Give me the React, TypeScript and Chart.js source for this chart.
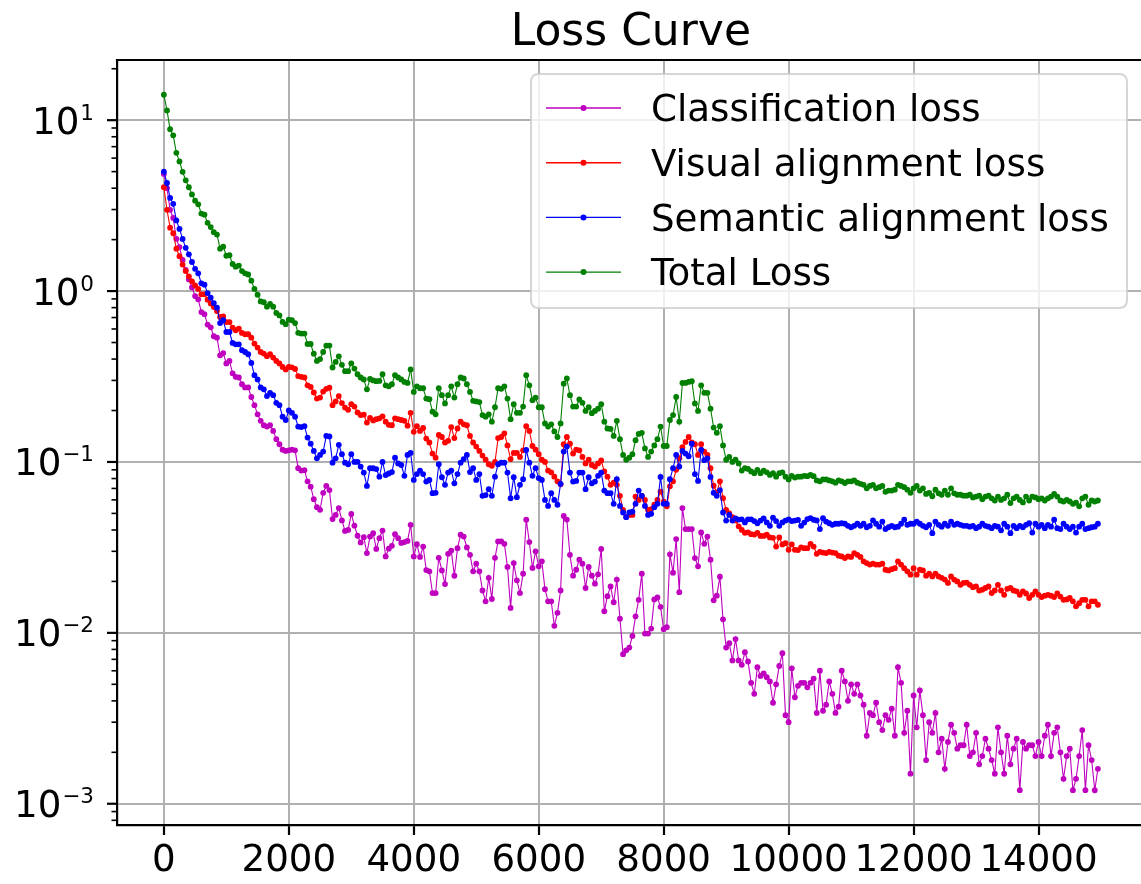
import React, { useEffect, useRef } from 'react';
import { Chart, registerables } from 'chart.js';

Chart.register(...registerables);

const STEP = 50;

const classificationLoss = [
  4.85, 4.0, 2.99, 2.68, 2.02, 1.81, 1.52, 1.33, 1.17, 1.05, 0.935, 0.895, 0.754, 0.733, 0.637, 0.614, 0.544, 0.534, 0.421, 0.434,
  0.377, 0.39, 0.33, 0.315, 0.312, 0.285, 0.273, 0.273, 0.24, 0.215, 0.19, 0.174, 0.164, 0.161, 0.164, 0.152, 0.136, 0.127, 0.118, 0.116,
  0.117, 0.118, 0.117, 0.092, 0.089, 0.0895, 0.077, 0.0717, 0.0606, 0.0544, 0.0525, 0.066, 0.0724, 0.0685, 0.0463, 0.049, 0.0537, 0.0455, 0.0395, 0.04,
  0.0496, 0.0424, 0.037, 0.0338, 0.0363, 0.0293, 0.0366, 0.0383, 0.031, 0.0358, 0.0397, 0.028, 0.0311, 0.0323, 0.0378, 0.0358, 0.0336, 0.034, 0.0345, 0.0429,
  0.028, 0.033, 0.0278, 0.032, 0.0233, 0.0229, 0.0171, 0.0171, 0.0275, 0.0232, 0.0193, 0.029, 0.0303, 0.0216, 0.0313, 0.0375, 0.0366, 0.0316, 0.0286, 0.0229,
  0.0254, 0.0229, 0.0177, 0.0153, 0.021, 0.0158, 0.0275, 0.0343, 0.0343, 0.0332, 0.0243, 0.014, 0.0256, 0.0203, 0.0171, 0.0222, 0.0459, 0.034, 0.024, 0.03,
  0.0245, 0.0262, 0.018, 0.0153, 0.0153, 0.011, 0.0131, 0.0177, 0.0483, 0.046, 0.0286, 0.0216, 0.0234, 0.0268, 0.0254, 0.0183, 0.0243, 0.0216, 0.0194, 0.022,
  0.031, 0.0134, 0.0164, 0.0187, 0.0151, 0.0205, 0.0121, 0.0075, 0.0079, 0.0082, 0.0096, 0.0125, 0.0156, 0.0222, 0.0099, 0.0099, 0.0106, 0.0157, 0.0161, 0.0142,
  0.0105, 0.0108, 0.0288, 0.0225, 0.0354, 0.0173, 0.0537, 0.0405, 0.0405, 0.0405, 0.0274, 0.0245, 0.0387, 0.0332, 0.0366, 0.0268, 0.0155, 0.0165, 0.0213, 0.012,
  0.0082, 0.0087, 0.0069, 0.0092, 0.0069, 0.0065, 0.0077, 0.0068, 0.0051, 0.0044, 0.0063, 0.0056, 0.0058, 0.0055, 0.0052, 0.0039, 0.005, 0.0064, 0.0076, 0.0033,
  0.003, 0.0062, 0.0042, 0.0049, 0.0051, 0.0051, 0.0048, 0.0051, 0.0054, 0.0034, 0.006, 0.0035, 0.0038, 0.0052, 0.0044, 0.0034, 0.0037, 0.006, 0.0052, 0.004,
  0.005, 0.0044, 0.005, 0.0043, 0.0038, 0.0025, 0.0034, 0.0033, 0.0039, 0.003, 0.0027, 0.0033, 0.0031, 0.0036, 0.0025, 0.0063, 0.0051, 0.0026, 0.0035, 0.0015,
  0.0043, 0.0028, 0.0046, 0.0033, 0.0018, 0.003, 0.0026, 0.0034, 0.002, 0.0024, 0.0016, 0.0023, 0.0029, 0.0026, 0.0021, 0.0022, 0.0022, 0.0029, 0.0019, 0.002,
  0.0026, 0.0017, 0.0019, 0.0024, 0.0021, 0.0018, 0.0015, 0.0028, 0.002, 0.0015, 0.0025, 0.0017, 0.0021, 0.0024, 0.0012, 0.0023, 0.0021, 0.0022, 0.0022, 0.0019,
  0.0023, 0.0019, 0.0025, 0.0029, 0.0019, 0.0026, 0.0028, 0.002, 0.0014, 0.0019, 0.0021, 0.0012, 0.0014, 0.0019, 0.0027, 0.0012, 0.0022, 0.0018, 0.0012, 0.0016,
];

const visualAlignmentLoss = [
  4.05, 2.99, 2.35, 2.18, 1.77, 1.6, 1.43, 1.31, 1.22, 1.14, 1.08, 1.03, 0.957, 0.957, 0.89, 0.845, 0.806, 0.764, 0.705, 0.711,
  0.659, 0.659, 0.611, 0.59, 0.603, 0.569, 0.559, 0.559, 0.534, 0.493, 0.467, 0.44, 0.431, 0.416, 0.427, 0.408, 0.39, 0.377, 0.36, 0.348,
  0.36, 0.358, 0.35, 0.318, 0.315, 0.312, 0.281, 0.275, 0.255, 0.235, 0.238, 0.258, 0.268, 0.272, 0.215, 0.226, 0.243, 0.221, 0.208, 0.202,
  0.218, 0.211, 0.195, 0.188, 0.189, 0.17, 0.181, 0.175, 0.178, 0.18, 0.185, 0.172, 0.165, 0.164, 0.18, 0.178, 0.176, 0.174, 0.163, 0.194,
  0.15, 0.162, 0.152, 0.158, 0.137, 0.13, 0.112, 0.106, 0.144, 0.14, 0.13, 0.133, 0.16, 0.138, 0.157, 0.172, 0.166, 0.164, 0.142, 0.13,
  0.123, 0.116, 0.109, 0.103, 0.097, 0.095, 0.1, 0.138, 0.14, 0.147, 0.125, 0.104, 0.113, 0.113, 0.107, 0.117, 0.162, 0.152, 0.124, 0.118,
  0.111, 0.103, 0.1, 0.089, 0.087, 0.082, 0.077, 0.074, 0.127, 0.14, 0.128, 0.112, 0.118, 0.117, 0.107, 0.098, 0.103, 0.096, 0.094, 0.098,
  0.102, 0.088, 0.082, 0.0735, 0.0757, 0.0735, 0.0634, 0.0525, 0.0476, 0.049, 0.049, 0.0627, 0.06, 0.0634, 0.06, 0.0525, 0.053, 0.0562, 0.06, 0.067,
  0.0586, 0.055, 0.072, 0.077, 0.09, 0.105, 0.122, 0.131, 0.14, 0.13, 0.127, 0.11, 0.127, 0.115, 0.11, 0.092, 0.0726, 0.0664, 0.077, 0.0614,
  0.0525, 0.05, 0.0476, 0.0455, 0.042, 0.04, 0.0385, 0.0387, 0.0378, 0.0376, 0.0385, 0.0369, 0.0369, 0.0375, 0.0362, 0.036, 0.032, 0.0362, 0.0329, 0.0335,
  0.0306, 0.0329, 0.0306, 0.0305, 0.0316, 0.0313, 0.0313, 0.0332, 0.032, 0.029, 0.0298, 0.0295, 0.0293, 0.0298, 0.0295, 0.0293, 0.0283, 0.028, 0.0274, 0.028,
  0.0278, 0.0293, 0.0286, 0.0278, 0.0262, 0.0256, 0.0251, 0.0254, 0.0251, 0.0251, 0.0254, 0.0234, 0.0232, 0.0236, 0.0239, 0.0262, 0.0251, 0.0239, 0.0229, 0.0219,
  0.0239, 0.0219, 0.0234, 0.0232, 0.0216, 0.0222, 0.0214, 0.0222, 0.0214, 0.021, 0.0205, 0.0196, 0.0214, 0.0205, 0.02, 0.0191, 0.0196, 0.0197, 0.0191, 0.0185,
  0.0187, 0.0177, 0.0179, 0.0183, 0.0187, 0.0171, 0.0177, 0.0191, 0.0177, 0.0167, 0.0181, 0.0183, 0.0177, 0.0175, 0.0167, 0.0175, 0.017, 0.016, 0.0167, 0.0175,
  0.0167, 0.0162, 0.0165, 0.0167, 0.0165, 0.0162, 0.017, 0.0163, 0.0156, 0.0157, 0.016, 0.0153, 0.0143, 0.0149, 0.0156, 0.0156, 0.0143, 0.0153, 0.0153, 0.0146,
];

const semanticAlignmentLoss = [
  5.0, 4.29, 3.51, 3.24, 2.59, 2.31, 2.02, 1.79, 1.64, 1.48, 1.35, 1.27, 1.11, 1.09, 0.973, 0.914, 0.851, 0.8, 0.65, 0.675,
  0.576, 0.576, 0.497, 0.488, 0.488, 0.451, 0.44, 0.427, 0.38, 0.322, 0.304, 0.273, 0.266, 0.243, 0.254, 0.246, 0.222, 0.215, 0.184, 0.176,
  0.2, 0.194, 0.184, 0.161, 0.16, 0.162, 0.139, 0.128, 0.116, 0.105, 0.11, 0.115, 0.142, 0.141, 0.099, 0.105, 0.126, 0.111, 0.099, 0.097,
  0.111, 0.1, 0.1, 0.094, 0.0867, 0.0724, 0.0919, 0.0919, 0.0909, 0.082, 0.1, 0.0838, 0.0856, 0.0873, 0.106, 0.098, 0.096, 0.083, 0.11, 0.113,
  0.0785, 0.085, 0.089, 0.085, 0.0768, 0.0785, 0.0657, 0.066, 0.097, 0.0814, 0.0735, 0.0867, 0.089, 0.075, 0.085, 0.099, 0.104, 0.11, 0.0873, 0.092,
  0.0785, 0.085, 0.0634, 0.064, 0.0693, 0.0634, 0.082, 0.097, 0.099, 0.099, 0.0867, 0.0614, 0.0814, 0.0622, 0.0735, 0.0792, 0.1175, 0.099, 0.083, 0.092,
  0.0805, 0.0785, 0.06, 0.0553, 0.0657, 0.06, 0.0562, 0.0745, 0.115, 0.123, 0.0867, 0.0768, 0.0775, 0.0867, 0.0867, 0.0693, 0.0814, 0.075, 0.0768, 0.083,
  0.0867, 0.068, 0.0657, 0.0657, 0.0569, 0.0792, 0.0553, 0.0506, 0.0475, 0.0506, 0.0512, 0.0569, 0.068, 0.0634, 0.0553, 0.049, 0.0497, 0.0544, 0.0569, 0.0818,
  0.0569, 0.0569, 0.0792, 0.092, 0.11, 0.094, 0.116, 0.112, 0.108, 0.128, 0.085, 0.0775, 0.1175, 0.1025, 0.105, 0.0818, 0.066, 0.0634, 0.0685, 0.0506,
  0.0454, 0.049, 0.0454, 0.0468, 0.046, 0.0462, 0.0443, 0.0462, 0.0462, 0.0451, 0.0438, 0.0454, 0.0468, 0.0443, 0.0423, 0.0472, 0.0451, 0.0423, 0.0443, 0.0454,
  0.0462, 0.0451, 0.0454, 0.0458, 0.0423, 0.0442, 0.0463, 0.0469, 0.0459, 0.0455, 0.0405, 0.0469, 0.0448, 0.0438, 0.0429, 0.0435, 0.0435, 0.0438, 0.0435, 0.0423,
  0.0415, 0.0423, 0.0435, 0.0423, 0.0435, 0.0415, 0.0423, 0.0455, 0.0435, 0.0418, 0.0448, 0.0405, 0.0415, 0.0423, 0.0415, 0.0418, 0.0435, 0.0459, 0.0429, 0.0435,
  0.0435, 0.0448, 0.0435, 0.0423, 0.0415, 0.0429, 0.0383, 0.0448, 0.0429, 0.0418, 0.0435, 0.0423, 0.0448, 0.0429, 0.0435, 0.0429, 0.0423, 0.0423, 0.0418, 0.0423,
  0.041, 0.0418, 0.0435, 0.0423, 0.0418, 0.041, 0.0423, 0.0418, 0.0398, 0.0435, 0.0418, 0.0383, 0.0423, 0.041, 0.0423, 0.0415, 0.0429, 0.0438, 0.0386, 0.0435,
  0.0418, 0.0429, 0.041, 0.0429, 0.0418, 0.0459, 0.041, 0.0405, 0.0435, 0.0418, 0.0405, 0.0418, 0.0386, 0.0418, 0.0435, 0.0405, 0.041, 0.0415, 0.0418, 0.0435,
];

const totalLoss = [
  14.1, 11.4, 8.85, 8.15, 6.44, 5.74, 4.99, 4.45, 4.05, 3.68, 3.38, 3.22, 2.84, 2.8, 2.51, 2.37, 2.21, 2.14, 1.77, 1.82,
  1.61, 1.62, 1.44, 1.39, 1.41, 1.31, 1.27, 1.25, 1.15, 1.03, 0.953, 0.87, 0.86, 0.81, 0.84, 0.81, 0.745, 0.72, 0.66, 0.64,
  0.68, 0.675, 0.65, 0.57, 0.564, 0.564, 0.49, 0.49, 0.43, 0.39, 0.4, 0.44, 0.48, 0.48, 0.357, 0.385, 0.415, 0.37, 0.34, 0.34,
  0.377, 0.352, 0.326, 0.312, 0.304, 0.266, 0.306, 0.3, 0.297, 0.298, 0.326, 0.281, 0.277, 0.285, 0.322, 0.312, 0.304, 0.294, 0.29, 0.348,
  0.257, 0.277, 0.27, 0.27, 0.235, 0.233, 0.197, 0.19, 0.27, 0.246, 0.22, 0.246, 0.277, 0.238, 0.285, 0.312, 0.308, 0.285, 0.257, 0.228,
  0.226, 0.224, 0.188, 0.184, 0.19, 0.172, 0.209, 0.27, 0.268, 0.277, 0.235, 0.178, 0.218, 0.194, 0.194, 0.211, 0.322, 0.281, 0.23, 0.238,
  0.209, 0.209, 0.168, 0.161, 0.166, 0.151, 0.14, 0.168, 0.287, 0.308, 0.246, 0.211, 0.211, 0.232, 0.222, 0.199, 0.209, 0.193, 0.199, 0.205,
  0.218, 0.172, 0.157, 0.156, 0.142, 0.174, 0.136, 0.11, 0.103, 0.106, 0.111, 0.134, 0.146, 0.148, 0.12, 0.107, 0.115, 0.125, 0.136, 0.161,
  0.124, 0.124, 0.176, 0.188, 0.24, 0.172, 0.29, 0.29, 0.294, 0.297, 0.22, 0.199, 0.281, 0.254, 0.254, 0.205, 0.159, 0.148, 0.162, 0.125,
  0.103, 0.107, 0.1, 0.103, 0.098, 0.089, 0.092, 0.091, 0.088, 0.086, 0.09, 0.086, 0.089, 0.087, 0.084, 0.086, 0.082, 0.086, 0.087, 0.082,
  0.079, 0.083, 0.081, 0.082, 0.082, 0.083, 0.0826, 0.084, 0.0826, 0.078, 0.077, 0.079, 0.079, 0.078, 0.077, 0.0757, 0.078, 0.077, 0.0753, 0.077,
  0.077, 0.078, 0.0757, 0.0745, 0.0735, 0.0701, 0.0724, 0.0735, 0.0701, 0.0712, 0.0724, 0.0669, 0.068, 0.068, 0.0688, 0.0735, 0.0724, 0.0712, 0.0688, 0.066,
  0.0701, 0.0724, 0.068, 0.0701, 0.065, 0.066, 0.063, 0.0688, 0.0655, 0.0643, 0.068, 0.0643, 0.0701, 0.0655, 0.0643, 0.0643, 0.0635, 0.0635, 0.0643, 0.062,
  0.0627, 0.0635, 0.0606, 0.0627, 0.0635, 0.0613, 0.0595, 0.0627, 0.06, 0.0613, 0.0643, 0.0575, 0.0613, 0.0627, 0.06, 0.058, 0.0627, 0.0595, 0.0627, 0.062,
  0.0606, 0.0613, 0.0595, 0.0613, 0.0627, 0.065, 0.0627, 0.0595, 0.0587, 0.06, 0.0587, 0.0569, 0.0578, 0.055, 0.0613, 0.0627, 0.0562, 0.0595, 0.0587, 0.0595,
];

const iterations = classificationLoss.map((_, i) => i * STEP);

const seriesNames = ['Classification loss', 'Visual alignment loss', 'Semantic alignment loss', 'Total Loss'];
const seriesColors = ['#bf00bf', '#ff0000', '#0000ff', '#008000'];
const seriesValues = [classificationLoss, visualAlignmentLoss, semanticAlignmentLoss, totalLoss];
const xTickValues = [0, 2000, 4000, 6000, 8000, 10000, 12000, 14000];
const yDecades = [-3, -2, -1, 0, 1];
const titleText = 'Loss Curve';

const FONT = '"DejaVu Sans", "Liberation Sans", sans-serif';
const TICK_SIZE = 37.2;
const EXP_SIZE = 21.5;
const GRID = '#b0b0b0';
const SPINE = 2.2;

const isPow10 = (v: number) => {
  const l = Math.log10(v);
  return Math.abs(l - Math.round(l)) < 1e-9;
};

const decorPlugin = {
  id: 'decor',
  afterDraw(chart: any) {
    const ctx: CanvasRenderingContext2D = chart.ctx;
    const { left, top, right } = chart.chartArea;
    const ys = chart.scales.y;
    const xs = chart.scales.x;
    ctx.save();

    // top spine
    ctx.strokeStyle = '#000';
    ctx.lineWidth = SPINE;
    ctx.beginPath();
    ctx.moveTo(left - SPINE / 2, top);
    ctx.lineTo(right, top);
    ctx.stroke();

    // y tick marks (major + minor)
    for (let e = -5; e <= 3; e++) {
      for (let m = 1; m <= 9; m++) {
        const v = m * Math.pow(10, e);
        if (v < ys.min || v > ys.max) continue;
        const py = ys.getPixelForValue(v);
        const len = m === 1 ? 10 : 5.5;
        ctx.lineWidth = m === 1 ? 2.2 : 1.6;
        ctx.beginPath();
        ctx.moveTo(left - len, py);
        ctx.lineTo(left, py);
        ctx.stroke();
      }
    }

    // y tick labels 10^k
    ctx.fillStyle = '#000';
    ctx.textBaseline = 'alphabetic';
    ctx.textAlign = 'left';
    const rightEdge = 94;
    for (const e of yDecades) {
      const py = ys.getPixelForValue(Math.pow(10, e));
      const expText = e < 0 ? '\u2212' + Math.abs(e) : String(e);
      ctx.font = `${EXP_SIZE}px ${FONT}`;
      const ew = ctx.measureText(expText).width;
      ctx.font = `${TICK_SIZE}px ${FONT}`;
      const bw = ctx.measureText('10').width;
      const base = py + 13.5;
      ctx.fillText('10', rightEdge - ew - bw - 1, base);
      ctx.font = `${EXP_SIZE}px ${FONT}`;
      ctx.fillText(expText, rightEdge - ew, base - 14);
    }

    // title, centred over the axes (matplotlib axes extend slightly past the canvas)
    const axesRight = xs.getPixelForValue(15697.5);
    ctx.font = `44px ${FONT}`;
    ctx.textAlign = 'center';
    ctx.fillText(titleText, (left + axesRight) / 2, 45);

    // legend
    const lx = 531, ly = 74, lw = 596, lh = 234, r = 8;
    ctx.beginPath();
    ctx.moveTo(lx + r, ly);
    ctx.lineTo(lx + lw - r, ly);
    ctx.quadraticCurveTo(lx + lw, ly, lx + lw, ly + r);
    ctx.lineTo(lx + lw, ly + lh - r);
    ctx.quadraticCurveTo(lx + lw, ly + lh, lx + lw - r, ly + lh);
    ctx.lineTo(lx + r, ly + lh);
    ctx.quadraticCurveTo(lx, ly + lh, lx, ly + lh - r);
    ctx.lineTo(lx, ly + r);
    ctx.quadraticCurveTo(lx, ly, lx + r, ly);
    ctx.closePath();
    ctx.fillStyle = 'rgba(255,255,255,0.8)';
    ctx.fill();
    ctx.strokeStyle = 'rgba(204,204,204,0.8)';
    ctx.lineWidth = 2;
    ctx.stroke();

    ctx.textAlign = 'left';
    ctx.font = `${TICK_SIZE}px ${FONT}`;
    seriesNames.forEach((name, i) => {
      const ry = 108 + i * 54.7;
      ctx.strokeStyle = seriesColors[i];
      ctx.lineWidth = 1.4;
      ctx.beginPath();
      ctx.moveTo(546, ry);
      ctx.lineTo(621, ry);
      ctx.stroke();
      ctx.fillStyle = seriesColors[i];
      ctx.beginPath();
      ctx.arc(583.5, ry, 3, 0, Math.PI * 2);
      ctx.fill();
      ctx.fillStyle = '#000';
      ctx.fillText(name, 651, ry + 13.3);
    });

    ctx.restore();
  },
};

export default function App() {
  const canvasRef = useRef<HTMLCanvasElement | null>(null);

  useEffect(() => {
    if (!canvasRef.current) return;
    const datasets = seriesNames.map((name, i) => ({
      label: name,
      data: seriesValues[i],
      borderColor: seriesColors[i],
      backgroundColor: seriesColors[i],
      pointBackgroundColor: seriesColors[i],
      pointBorderWidth: 0,
      pointRadius: 2.9,
      borderWidth: 1.1,
      tension: 0,
      fill: false,
      order: seriesNames.length - i,
    }));

    const chart = new Chart(canvasRef.current, {
      type: 'line',
      data: { labels: iterations, datasets },
      options: {
        animation: false,
        responsive: false,
        devicePixelRatio: 1,
        layout: { padding: { top: 60, left: 0, right: 0, bottom: 0 }, autoPadding: false },
        plugins: {
          legend: { display: false },
          title: { display: false },
          tooltip: { enabled: false },
        },
        scales: {
          x: {
            type: 'linear',
            min: -750,
            max: 15640,
            afterBuildTicks: (s: any) => { s.ticks = xTickValues.map((v) => ({ value: v })); },
            afterFit: (s: any) => { s.height = 59; s.paddingLeft = 0; s.paddingRight = 0; },
            border: { display: true, color: '#000', width: SPINE },
            grid: {
              color: GRID,
              lineWidth: 2,
              drawTicks: true,
              tickLength: 10,
              tickColor: '#000',
              tickWidth: 2.2,
            },
            ticks: {
              autoSkip: false,
              maxRotation: 0,
              padding: 4,
              color: '#000',
              font: { family: FONT, size: TICK_SIZE },
              callback: (v: any) => String(v),
            },
          },
          y: {
            type: 'logarithmic',
            min: 7.51e-4,
            max: 22.5,
            afterFit: (s: any) => { s.width = 117; },
            border: { display: true, color: '#000', width: SPINE },
            grid: {
              color: (c: any) => (c.tick && isPow10(c.tick.value) ? GRID : 'rgba(0,0,0,0)'),
              lineWidth: 2,
              drawTicks: false,
            },
            ticks: { display: false },
          },
        },
      },
      plugins: [decorPlugin],
    });
    return () => chart.destroy();
  }, []);

  return (
    <div style={{ position: 'fixed', left: 0, top: 0, width: 1141, height: 884, background: '#fff' }}>
      <canvas ref={canvasRef} width={1141} height={884} style={{ display: 'block' }} />
    </div>
  );
}
